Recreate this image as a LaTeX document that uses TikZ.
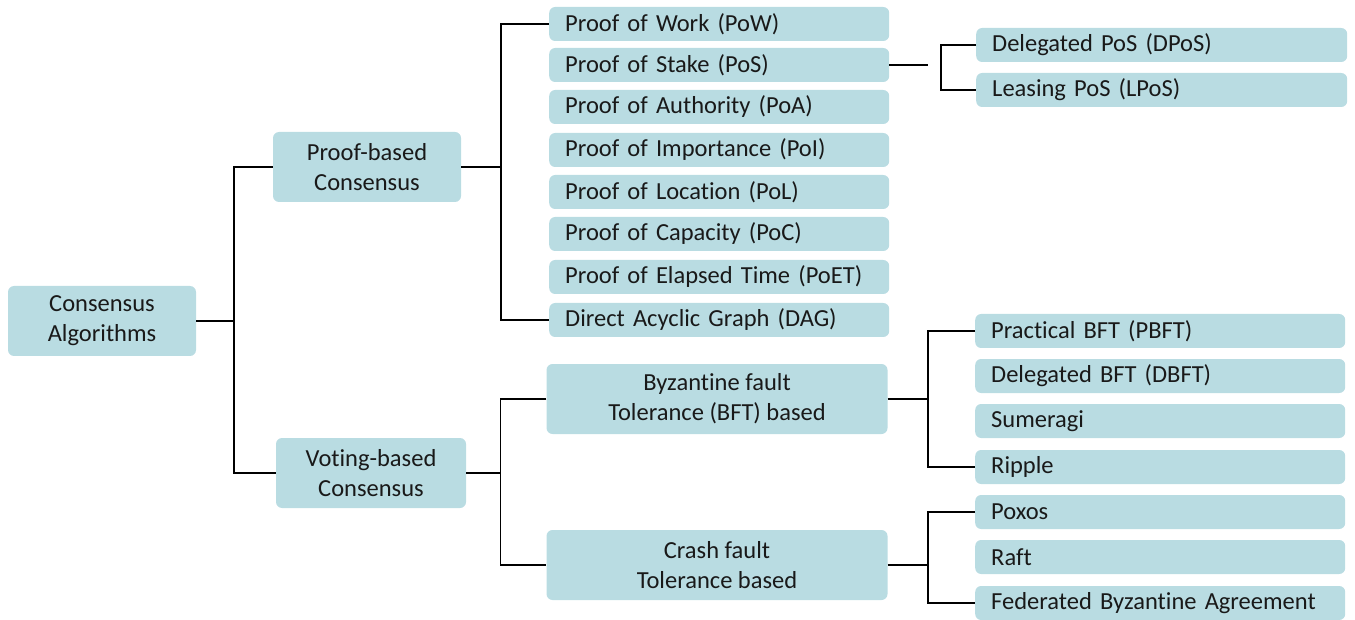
\documentclass[tikz,border=0pt]{standalone}
\usepackage{fontspec}
\setmainfont[Ligatures=NoCommon]{Carlito}
\usetikzlibrary{positioning}
\definecolor{boxfill}{HTML}{B9DCE2}
\tikzset{basic/.style={fill=boxfill,rounded corners=6pt,text=black!90,font=\fontsize{24.5}{30}\selectfont}}
\tikzset{group/.style={basic,minimum width=188pt,minimum height=70pt,align=center,inner sep=2pt}}
\tikzset{leaf/.style={basic,anchor=west,minimum height=34pt,text width=308pt,inner xsep=16pt,inner ysep=0pt,align=left}}
\tikzset{link/.style={draw,line width=1.6pt}}

\begin{document}
\begin{tikzpicture}[x=1pt,y=-1pt]
\useasboundingbox (0,0) rectangle (1355,620);

% main branches
\node[group] (root) at (102,321) {Consensus\\Algorithms};
\node[group] (proof) at (367,167) {Proof-based\\Consensus};
\node[group,minimum width=190pt] (vote) at (371,473) {Voting-based\\Consensus};

% proof-based family
\node[leaf] (pow) at (549,24) {Proof of Work (PoW)};
\node[leaf] (pos) at (549,65) {Proof of Stake (PoS)};
\node[leaf] (poa) at (549,107) {Proof of Authority (PoA)};
\node[leaf] (poi) at (549,150) {Proof of Importance (PoI)};
\node[leaf] (pol) at (549,192) {Proof of Location (PoL)};
\node[leaf] (poc) at (549,234) {Proof of Capacity (PoC)};
\node[leaf] (poet) at (549,277) {Proof of Elapsed Time (PoET)};
\node[leaf] (dag) at (549,320) {Direct Acyclic Graph (DAG)};

% stake variants
\node[leaf,text width=339pt] (dpos) at (976,45) {Delegated PoS (DPoS)};
\node[leaf,text width=339pt] (lpos) at (976,90) {Leasing PoS (LPoS)};

% voting-based family
\node[group,minimum width=341pt] (bft) at (717,399) {Byzantine fault\\Tolerance (BFT) based};
\node[group,minimum width=341pt] (cft) at (717,565) {Crash fault\\Tolerance based};

\node[leaf,text width=338pt] (pbft) at (975,331) {Practical BFT (PBFT)};
\node[leaf,text width=338pt] (dbft) at (975,376) {Delegated BFT (DBFT)};
\node[leaf,text width=338pt] (sumeragi) at (975,421) {Sumeragi};
\node[leaf,text width=338pt] (ripple) at (975,467) {Ripple};
\node[leaf,text width=338pt] (poxos) at (975,512) {Poxos};
\node[leaf,text width=338pt] (raft) at (975,557) {Raft};
\node[leaf,text width=338pt] (fba) at (975,603) {Federated Byzantine Agreement};

% connectors
\draw[link] (root.east) -- ++(38,0);
\draw[link] (proof.west) -- ++(-39,0) |- (vote.west);
\draw[link] (proof.east) -- ++(40,0);
\draw[link] (pow.west) -- ++(-48,0) |- (dag.west);
\draw[link] (pos.east) -- ++(39,0) coordinate (posend);
\draw[link] (dpos.west) -- ++(-35,0) |- (lpos.west);
\draw[link] (vote.east) -- ++(35,0);
\draw[link] (bft.west) -- ++(-46,0) |- (cft.west);
\draw[link] (bft.east) -- ++(40,0);
\draw[link] (pbft.west) -- ++(-47,0) |- (ripple.west);
\draw[link] (cft.east) -- ++(40,0);
\draw[link] (poxos.west) -- ++(-47,0) |- (fba.west);
\end{tikzpicture}
\end{document}
